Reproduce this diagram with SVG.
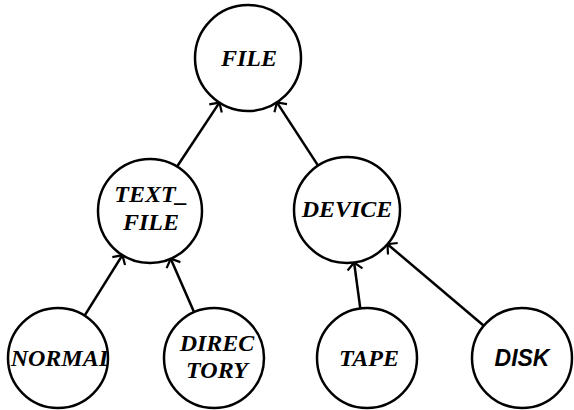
<svg xmlns="http://www.w3.org/2000/svg" width="574" height="410" viewBox="0 0 574 410">
<style>
.node circle{fill:#fff;stroke:#000;stroke-width:2.5}
.lbl{font-family:"Liberation Serif","DejaVu Serif",serif;font-weight:bold;font-style:italic;font-size:24px;text-anchor:middle;fill:#000}
.sans{font-family:"Liberation Sans","DejaVu Sans",sans-serif;font-size:23px}
.edge{stroke:#000;stroke-width:2.5;fill:none;marker-end:url(#arr)}
</style>
<defs>
<marker id="arr" markerUnits="userSpaceOnUse" viewBox="-10 -10 12 20" refX="0" refY="0" markerWidth="12" markerHeight="20" orient="auto">
<path d="M-7,-7.5 L0,0 L-7,7.5" fill="none" stroke="#000" stroke-width="2.2"/>
</marker>
<clipPath id="cn"><circle cx="58" cy="358" r="50"/></clipPath>
</defs>
<rect width="574" height="410" fill="#fff"/>
<g id="connectors">
<line class="edge" x1="176.6" y1="167.2" x2="219.4" y2="102.6"/>
<line class="edge" x1="318.1" y1="165.6" x2="276.9" y2="102.4"/>
<line class="edge" x1="84.6" y1="315.6" x2="122.4" y2="255.1"/>
<line class="edge" x1="194.1" y1="312.2" x2="170.7" y2="258.7"/>
<line class="edge" x1="360.3" y1="308.4" x2="354.1" y2="262.5"/>
<line class="edge" x1="483.8" y1="325.7" x2="387.5" y2="244.2"/>
</g>
<g id="FILE" class="node"><circle cx="248" cy="58" r="53"/><text class="lbl" x="249" y="66">FILE</text></g>
<g id="TEXT_FILE" class="node"><circle cx="150" cy="211" r="52"/><text class="lbl" x="151" y="202">TEXT_</text><text class="lbl" x="151" y="230">FILE</text></g>
<g id="DEVICE" class="node"><circle cx="347" cy="210" r="53"/><text class="lbl" x="347" y="217">DEVICE</text></g>
<g id="NORMAL" class="node"><circle cx="58" cy="358" r="50"/><text class="lbl" x="62" y="366" clip-path="url(#cn)">NORMAL</text></g>
<g id="DIRECTORY" class="node"><circle cx="214" cy="358" r="50"/><text class="lbl" x="217" y="351">DIREC</text><text class="lbl" x="217" y="378">TORY</text></g>
<g id="TAPE" class="node"><circle cx="367" cy="358" r="50"/><text class="lbl" x="369" y="366">TAPE</text></g>
<g id="DISK" class="node"><circle cx="522" cy="358" r="50"/><text class="lbl sans" x="522" y="366">DISK</text></g>
</svg>
